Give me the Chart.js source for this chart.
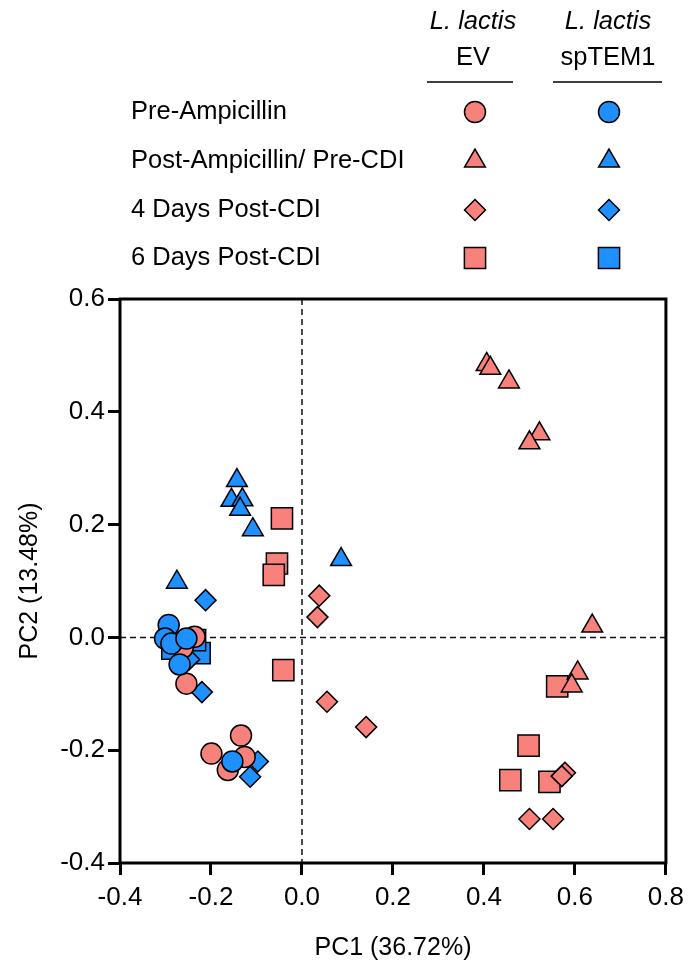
<!DOCTYPE html>
<html>
<head>
<meta charset="utf-8">
<script src="https://cdn.jsdelivr.net/npm/chart.js@4.4.1/dist/chart.umd.min.js"></script>
<style>
  html, body { margin: 0; padding: 0; background: #fff; }
</style>
</head>
<body>
<canvas id="pcaChart" width="691" height="965"></canvas>
<script>
// PC1 / PC2 coordinates, one array per group
const evPreAmp = [[-0.236, 0.001], [-0.262, -0.018], [-0.254, -0.082], [-0.134, -0.174],
  [-0.199, -0.206], [-0.126, -0.212], [-0.163, -0.235]];
const temPreAmp = [[-0.293, 0.022], [-0.301, -0.002], [-0.287, -0.011], [-0.254, -0.002],
  [-0.269, -0.048], [-0.153, -0.220]];
const evPostAmp = [[0.406, 0.484], [0.414, 0.477], [0.455, 0.453], [0.522, 0.361],
  [0.500, 0.345], [0.638, 0.020], [0.606, -0.063], [0.593, -0.086]];
const temPostAmp = [[-0.143, 0.278], [-0.155, 0.243], [-0.131, 0.244], [-0.136, 0.227],
  [-0.108, 0.191], [0.086, 0.138], [-0.275, 0.098]];
const evDay4 = [[0.038, 0.074], [0.034, 0.036], [0.055, -0.114], [0.141, -0.159],
  [0.578, -0.240], [0.571, -0.246], [0.500, -0.322], [0.552, -0.322]];
const temDay4 = [[-0.212, 0.066], [-0.248, -0.039], [-0.220, -0.097], [-0.097, -0.220],
  [-0.114, -0.247]];
const evDay6 = [[-0.044, 0.211], [-0.055, 0.131], [-0.062, 0.111], [-0.041, -0.058],
  [0.561, -0.087], [0.498, -0.192], [0.458, -0.253], [0.544, -0.256]];
const temDay6 = [[-0.225, -0.028], [-0.235, -0.005], [-0.285, -0.020]];

const groupLabels = ['Pre-Ampicillin', 'Post-Ampicillin/ Pre-CDI', '4 Days Post-CDI', '6 Days Post-CDI'];
const strainLabels = ['EV', 'spTEM1'];

const EV_COLOR = '#F8817B';
const TEM_COLOR = '#1E90FF';
const FONT = '"Liberation Sans", Arial, Helvetica, sans-serif';

const shapes = [
  { style: 'circle', radius: 10.5 },
  { style: 'triangle', radius: 12 },
  { style: 'rectRot', radius: 10.5 },
  { style: 'rect', radius: 15 }
];

const toPoints = arr => arr.map(p => ({ x: p[0], y: p[1] }));

// order: higher number is drawn first (underneath)
function makeSet(label, data, color, shapeIdx, order) {
  return {
    label: label,
    data: toPoints(data),
    pointStyle: shapes[shapeIdx].style,
    pointRadius: shapes[shapeIdx].radius,
    pointHoverRadius: shapes[shapeIdx].radius,
    backgroundColor: color,
    borderColor: '#000',
    pointBorderWidth: 1.5,
    order: order
  };
}

const datasets = [
  makeSet('EV ' + groupLabels[3], evDay6, EV_COLOR, 3, 8),
  makeSet('spTEM1 ' + groupLabels[3], temDay6, TEM_COLOR, 3, 7),
  makeSet('EV ' + groupLabels[1], evPostAmp, EV_COLOR, 1, 6),
  makeSet('spTEM1 ' + groupLabels[1], temPostAmp, TEM_COLOR, 1, 5),
  makeSet('EV ' + groupLabels[2], evDay4, EV_COLOR, 2, 4),
  makeSet('spTEM1 ' + groupLabels[2], temDay4, TEM_COLOR, 2, 3),
  makeSet('EV ' + groupLabels[0], evPreAmp, EV_COLOR, 0, 2),
  makeSet('spTEM1 ' + groupLabels[0], temPreAmp, TEM_COLOR, 0, 1)
];

function drawMarker(ctx, shape, x, y, color) {
  ctx.save();
  ctx.fillStyle = color;
  ctx.strokeStyle = '#000';
  ctx.lineWidth = 1.5;
  Chart.helpers.drawPoint(ctx, { pointStyle: shape.style, radius: shape.radius, rotation: 0, borderWidth: 1.5 }, x, y);
  ctx.restore();
}

// frame, zero lines and the two-column key above the plot
const decorations = {
  id: 'decorations',
  beforeDatasetsDraw(chart) {
    const { ctx, chartArea: a, scales } = chart;
    const x0 = scales.x.getPixelForValue(0);
    const y0 = scales.y.getPixelForValue(0);
    ctx.save();
    ctx.strokeStyle = '#111';
    ctx.lineWidth = 1.5;
    ctx.setLineDash([6, 4]);
    ctx.beginPath();
    ctx.moveTo(x0, a.top); ctx.lineTo(x0, a.bottom);
    ctx.moveTo(a.left, y0); ctx.lineTo(a.right, y0);
    ctx.stroke();
    ctx.restore();
  },
  afterDraw(chart) {
    const { ctx, chartArea: a } = chart;
    ctx.save();
    ctx.strokeStyle = '#000';
    ctx.lineWidth = 3;
    ctx.strokeRect(a.left, a.top, a.right - a.left, a.bottom - a.top);

    // key
    const colX = [473, 608];
    const rowY = [112, 161, 210, 258];
    ctx.fillStyle = '#000';
    ctx.textAlign = 'center';
    ctx.textBaseline = 'middle';
    colX.forEach((cx, i) => {
      ctx.font = 'italic 25.5px ' + FONT;
      ctx.fillText('L. lactis', cx, 22);
      ctx.font = '25.5px ' + FONT;
      ctx.fillText(strainLabels[i], cx, 58);
    });
    ctx.lineWidth = 1.5;
    ctx.beginPath();
    ctx.moveTo(427, 82); ctx.lineTo(513, 82);
    ctx.moveTo(553, 82); ctx.lineTo(662, 82);
    ctx.stroke();

    ctx.textAlign = 'left';
    ctx.font = '25.5px ' + FONT;
    groupLabels.forEach((g, i) => {
      ctx.fillStyle = '#000';
      ctx.fillText(g, 131, rowY[i]);
      drawMarker(ctx, shapes[i], colX[0] + 2, rowY[i], EV_COLOR);
      drawMarker(ctx, shapes[i], colX[1] + 1, rowY[i], TEM_COLOR);
    });
    ctx.restore();
  }
};

const fmt = v => (Math.abs(v) < 1e-9 ? '0.0' : v.toFixed(1));

new Chart(document.getElementById('pcaChart'), {
  type: 'scatter',
  data: { datasets: datasets },
  options: {
    responsive: false,
    animation: false,
    layout: { padding: { top: 299, right: 23, left: 0, bottom: 0 } },
    plugins: { legend: { display: false }, tooltip: { enabled: false } },
    scales: {
      x: {
        type: 'linear',
        min: -0.4,
        max: 0.8,
        afterFit: s => { s.height = 102; },
        ticks: { stepSize: 0.2, color: '#000', padding: 7, font: { family: FONT, size: 26 }, callback: fmt },
        grid: { drawOnChartArea: false, drawTicks: true, tickLength: 12, tickWidth: 3, tickColor: '#000' },
        border: { display: false },
        title: { display: true, text: 'PC1 (36.72%)', color: '#000', font: { family: FONT, size: 25 }, padding: { top: 0, bottom: 2 } }
      },
      y: {
        type: 'linear',
        min: -0.4,
        max: 0.6,
        afterFit: s => { s.width = 120; },
        ticks: { stepSize: 0.2, color: '#000', padding: 3, font: { family: FONT, size: 26 }, callback: fmt },
        grid: { drawOnChartArea: false, drawTicks: true, tickLength: 12, tickWidth: 3, tickColor: '#000' },
        border: { display: false },
        title: { display: true, text: 'PC2 (13.48%)', color: '#000', font: { family: FONT, size: 25 }, padding: { top: 15, bottom: 15 } }
      }
    }
  },
  plugins: [decorations]
});
</script>
</body>
</html>
